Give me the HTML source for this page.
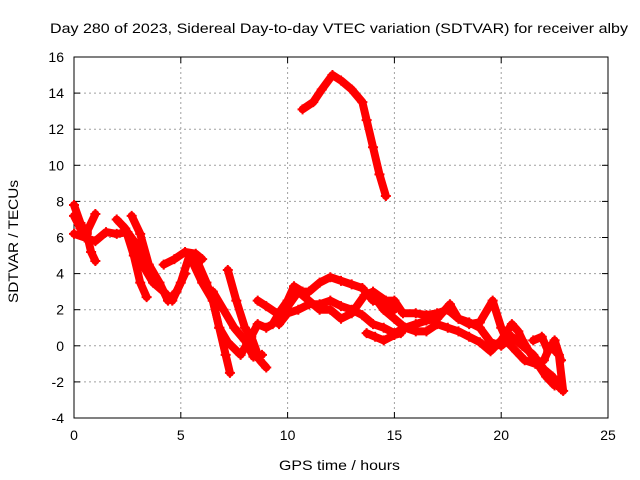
<!DOCTYPE html>
<html><head><meta charset="utf-8"><style>
body{margin:0;background:#fff}
svg{display:block;font-family:"Liberation Sans",sans-serif}
</style></head><body>
<svg id="chart" width="640" height="480" viewBox="0 0 640 480">
<rect width="640" height="480" fill="#fff"/>
<g id="grid"></g>
<g id="axes"></g>
<g id="series"></g>
<text x="50" y="33" font-size="14" textLength="578" lengthAdjust="spacingAndGlyphs">Day 280 of 2023, Sidereal Day-to-day VTEC variation (SDTVAR) for receiver alby</text>
<text x="279" y="470" font-size="14" textLength="121" lengthAdjust="spacingAndGlyphs">GPS time / hours</text>
<text transform="translate(18,303) rotate(-90)" font-size="14" textLength="123" lengthAdjust="spacingAndGlyphs">SDTVAR / TECUs</text>
</svg>
<script>
const xTicks=[0,5,10,15,20,25];
const yTicks=[-4,-2,0,2,4,6,8,10,12,14,16];
const trackArc=[[10.7,13.1],[11.2,13.5],[11.6,14.2],[12.1,15.0],[12.5,14.7],[13,14.2],[13.5,13.5],[13.7,12.5],[14,11],[14.3,9.5],[14.6,8.3]];
const trackA=[[0,6.2],[0.5,6.0],[1,5.8],[1.5,6.3],[2,6.2],[2.5,6.3],[3,5.5],[3.3,4.3],[3.7,3.5],[4.2,3.0],[4.6,2.5],[5,3.5],[5.4,5.0],[5.8,4.6],[6.2,3.5],[6.5,2.5],[6.8,1.0],[7.1,-0.5],[7.3,-1.5]];
const trackB=[[0,7.2],[0.3,6.5],[0.6,6.3],[1,7.3]];
const trackC=[[0,7.8],[0.3,6.8],[0.6,6.2],[0.8,5.2],[1,4.7]];
const trackD=[[2,7.0],[2.4,6.5],[2.8,5.0],[3.1,3.5],[3.4,2.7]];
const trackE=[[2.7,7.2],[3.1,6.2],[3.5,4.5],[4,3.5],[4.4,2.5],[4.8,3.0],[5.2,4.0]];
const trackF=[[4.2,4.5],[4.7,4.8],[5.2,5.2],[5.7,5.1],[6,4.8]];
const trackG=[[5.6,4.5],[6,3.5],[6.5,2.5],[6.8,1.0],[7.2,0.2],[7.8,-0.5],[8.2,0.3],[8.6,1.2],[9,1.0],[9.3,1.2],[9.7,2.0],[10,2.5],[10.3,3.3],[10.7,3.0],[11,3.0],[11.5,3.5],[12,3.8],[12.5,3.6],[13,3.4],[13.5,3.2],[14,2.5],[14.5,2.4],[15,2.0]];
const trackH=[[7.2,4.2],[7.6,2.5],[8,1.0],[8.3,0.5],[8.7,-0.8],[9,-1.2]];
const trackI=[[6.5,3.0],[7,2.0],[7.5,1.0],[8,0.3],[8.4,-0.6],[8.8,-0.5]];
const trackJ=[[8.6,2.5],[9,2.2],[9.5,1.8],[9.9,2.0],[10.5,3.0],[11,2.5],[11.5,2.0],[12,2.0],[12.5,1.5],[13,1.8],[13.6,2.8],[14,3.0],[14.6,2.5],[15,2.5],[15.4,1.8],[16,1.8],[16.5,1.7],[17,1.8],[17.5,2.0],[18,1.5],[18.5,1.3],[19,1.0],[19.5,0.2],[20,0],[20.5,0.5],[21,0],[21.5,-0.5],[22,-1.3],[22.4,-1.7],[22.8,-2.4]];
const trackK=[[9.6,1.2],[10,1.8],[10.5,2.0],[11,2.3],[11.5,2.3],[12,2.5],[12.5,2.2],[13,2.0],[13.5,1.7],[14,1.2],[14.5,1.0],[15,0.7],[15.5,1.0],[16,0.8],[16.5,0.8],[17,1.2],[17.5,1.0],[18,0.8],[18.5,0.5],[19,0.2],[19.5,-0.3],[20,0.3],[20.5,1.2],[20.8,0.8],[21,0.3],[21.3,-0.3],[21.7,-1.0],[22.1,-1.7],[22.5,-2.2]];
const trackL=[[13.7,0.7],[14.1,0.5],[14.5,0.3],[15,0.6],[15.3,0.7]];
const trackM=[[14,2.8],[14.5,2.0],[15,1.5],[15.5,1.0],[16,1.2],[16.5,1.4],[17,1.5],[17.6,2.3],[18,1.5],[18.5,1.2],[19,1.3],[19.6,2.5],[20,1.0],[20.3,0.2],[20.7,-0.3],[21.1,-0.8],[21.6,-1.0],[22,-0.8],[22.3,0],[22.7,-0.5],[22.9,-2.5]];
const trackN=[[21.5,0.3],[21.9,0.5],[22.2,-0.3],[22.5,0.3],[22.8,-0.8]];
const tracks=[trackArc,trackA,trackB,trackC,trackD,trackE,trackF,trackG,trackH,trackI,trackJ,trackK,trackL,trackM,trackN];

const L=74,R=608,T=57,B=418;
const xs=h=>L+(h-0)/(25-0)*(R-L);
const ys=v=>B-(v+4)/(16+4)*(B-T);
const NS="http://www.w3.org/2000/svg";
function mk(tag,attrs,parent){const e=document.createElementNS(NS,tag);for(const k in attrs)e.setAttribute(k,attrs[k]);parent.appendChild(e);return e;}
const grid=document.getElementById('grid'),axes=document.getElementById('axes'),ser=document.getElementById('series');
xTicks.forEach(t=>{
  const x=xs(t);
  if(t>0&&t<25){const g=mk('line',{x1:x,x2:x,y1:T,y2:B,stroke:'#a0a0a0','stroke-dasharray':'2,3'},grid);
  
  }
  mk('line',{x1:x,x2:x,y1:B,y2:B-6,stroke:'#000'},axes);
  mk('line',{x1:x,x2:x,y1:T,y2:T+6,stroke:'#000'},axes);
  const tx=mk('text',{x:x,y:B+22,'font-size':14,'text-anchor':'middle'},axes);
  tx.textContent=t;
  
  
});
yTicks.forEach(t=>{
  const y=ys(t);
  if(t>-4&&t<16){const g=mk('line',{x1:L,x2:R,y1:y,y2:y,stroke:'#a0a0a0','stroke-dasharray':'2,3'},grid);
  
  }
  mk('line',{x1:L,x2:L+6,y1:y,y2:y,stroke:'#000'},axes);
  mk('line',{x1:R,x2:R-6,y1:y,y2:y,stroke:'#000'},axes);
  const tx=mk('text',{x:L-10,y:y+5,'font-size':14,'text-anchor':'end'},axes);
  tx.textContent=t;
  
  
});
const fr=mk('rect',{x:L,y:T,width:R-L,height:B-T,fill:'none',stroke:'#000'},axes);


tracks.forEach(tr=>{
  const p=mk('polyline',{points:tr.map(d=>xs(d[0])+','+ys(d[1])).join(' '),fill:'none',stroke:'#ff0000','stroke-width':8,'stroke-linejoin':'round','stroke-linecap':'round'},ser);
  
  
  tr.forEach(d=>{
    const x=xs(d[0]),y=ys(d[1]);
    const m=mk('path',{d:`M${x-5},${y}H${x+5}M${x},${y-5}V${y+5}`,stroke:'#ff0000','stroke-width':2},ser);
    
    
  });
});
</script>
</body></html>
